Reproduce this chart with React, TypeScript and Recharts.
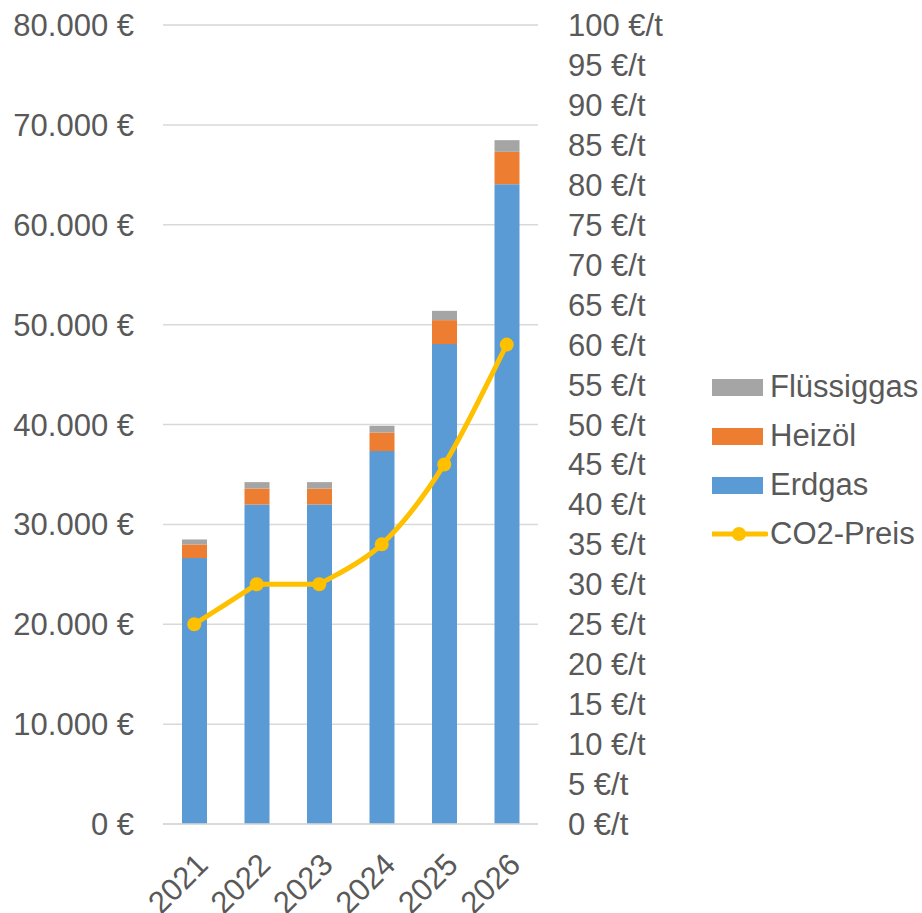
import React from "react";
import {
  ComposedChart,
  Bar,
  Line,
  XAxis,
  YAxis,
  CartesianGrid,
  Legend,
} from "recharts";

// Jahre und Kosten je Energieträger (in €), CO2-Preis in €/t
const years = ["2021", "2022", "2023", "2024", "2025", "2026"];
const erdgas = [26630, 31990, 31990, 37340, 48050, 64060];
const heizoel = [1360, 1600, 1600, 1860, 2400, 3240];
const fluessiggas = [500, 640, 640, 670, 930, 1170];
const co2Preis = [25, 30, 30, 35, 45, 60];

const euroTicks = [0, 10000, 20000, 30000, 40000, 50000, 60000, 70000, 80000];
const euroMinorTicks = [
  0, 5000, 10000, 15000, 20000, 25000, 30000, 35000, 40000,
  45000, 50000, 55000, 60000, 65000, 70000, 75000, 80000,
];
const preisTicks = [
  0, 5, 10, 15, 20, 25, 30, 35, 40, 45, 50,
  55, 60, 65, 70, 75, 80, 85, 90, 95, 100,
];

const COLORS = {
  erdgas: "#5B9BD5",
  heizoel: "#ED7D31",
  fluessiggas: "#A5A5A5",
  co2: "#FFC000",
};

const TEXT = "#595959";
const FONT = "'Liberation Sans', Arial, sans-serif";

const data = years.map((year, i) => ({
  year,
  erdgas: erdgas[i],
  heizoel: heizoel[i],
  fluessiggas: fluessiggas[i],
  co2: co2Preis[i],
}));

const formatEuro = (v: number) =>
  `${v.toLocaleString("de-DE").replace(/,/g, ".")} €`;

// geglättete Linie (Bezier, Tangente aus Nachbarpunkten / 6);
// Abschnitte ohne Preisänderung bleiben gerade und brechen die Glättung
function smoothCurve(context: any) {
  let pts: [number, number][] = [];
  const flat = (a?: [number, number], b?: [number, number]) =>
    !!a && !!b && a[1] === b[1];
  return {
    areaStart() {},
    areaEnd() {},
    lineStart() {
      pts = [];
    },
    point(x: number, y: number) {
      pts.push([+x, +y]);
    },
    lineEnd() {
      if (!pts.length) return;
      context.moveTo(pts[0][0], pts[0][1]);
      for (let i = 0; i < pts.length - 1; i++) {
        const p1 = pts[i];
        const p2 = pts[i + 1];
        if (flat(p1, p2)) {
          context.lineTo(p2[0], p2[1]);
          continue;
        }
        const p0 = pts[i - 1] && !flat(pts[i - 1], p1) ? pts[i - 1] : p1;
        const p3 = pts[i + 2] && !flat(p2, pts[i + 2]) ? pts[i + 2] : p2;
        context.bezierCurveTo(
          p1[0] + (p2[0] - p0[0]) / 6,
          p1[1] + (p2[1] - p0[1]) / 6,
          p2[0] - (p3[0] - p1[0]) / 6,
          p2[1] - (p3[1] - p1[1]) / 6,
          p2[0],
          p2[1]
        );
      }
    },
  };
}

const legendItems = [
  { label: "Flüssiggas", color: COLORS.fluessiggas, kind: "rect" },
  { label: "Heizöl", color: COLORS.heizoel, kind: "rect" },
  { label: "Erdgas", color: COLORS.erdgas, kind: "rect" },
  { label: "CO2-Preis", color: COLORS.co2, kind: "line" },
];

function KostenLegend() {
  return (
    <div style={{ fontFamily: FONT, fontSize: 31, color: TEXT }}>
      {legendItems.map((item) => (
        <div
          key={item.label}
          style={{ display: "flex", alignItems: "center", height: 49 }}
        >
          <svg width={56} height={20} style={{ marginRight: 2 }}>
            {item.kind === "rect" ? (
              <rect x={0} y={2} width={51} height={17} fill={item.color} />
            ) : (
              <g>
                <line
                  x1={0}
                  y1={10}
                  x2={54}
                  y2={10}
                  stroke={item.color}
                  strokeWidth={5}
                  strokeLinecap="round"
                />
                <circle cx={27} cy={10} r={7} fill={item.color} />
              </g>
            )}
          </svg>
          <span>{item.label}</span>
        </div>
      ))}
    </div>
  );
}

export default function App() {
  const tickStyle = { fill: TEXT, fontSize: 31, fontFamily: FONT };

  return (
    <div style={{ position: "absolute", left: 0, top: 0, background: "#fff" }}>
      <ComposedChart
        width={922}
        height={913}
        data={data}
        margin={{ top: 25, right: 254, bottom: 0, left: 0 }}
      >
        <CartesianGrid
          yAxisId="minor"
          vertical={false}
          stroke="#f2f2f2"
          strokeWidth={1.5}
        />
        <CartesianGrid
          yAxisId="left"
          vertical={false}
          stroke="#d9d9d9"
          strokeWidth={1.5}
        />
        <XAxis
          dataKey="year"
          interval={0}
          angle={-45}
          textAnchor="end"
          tickSize={0}
          tickMargin={27}
          height={89}
          axisLine={{ stroke: "#d9d9d9", strokeWidth: 1.5 }}
          tick={tickStyle}
        />
        <YAxis
          yAxisId="minor"
          hide
          domain={[0, 80000]}
          ticks={euroMinorTicks}
        />
        <YAxis
          yAxisId="left"
          width={163}
          domain={[0, 80000]}
          ticks={euroTicks}
          tickFormatter={formatEuro}
          tickSize={0}
          tickMargin={29}
          axisLine={false}
          tickLine={false}
          tick={tickStyle}
        />
        <YAxis
          yAxisId="right"
          orientation="right"
          width={130}
          domain={[0, 100]}
          ticks={preisTicks}
          interval={0}
          tickFormatter={(v: number) => `${v} €/t`}
          tickSize={0}
          tickMargin={30}
          axisLine={false}
          tickLine={false}
          tick={tickStyle}
        />
        <Bar
          yAxisId="left"
          dataKey="erdgas"
          name="Erdgas"
          stackId="kosten"
          fill={COLORS.erdgas}
          barSize={25}
          isAnimationActive={false}
        />
        <Bar
          yAxisId="left"
          dataKey="heizoel"
          name="Heizöl"
          stackId="kosten"
          fill={COLORS.heizoel}
          barSize={25}
          isAnimationActive={false}
        />
        <Bar
          yAxisId="left"
          dataKey="fluessiggas"
          name="Flüssiggas"
          stackId="kosten"
          fill={COLORS.fluessiggas}
          barSize={25}
          isAnimationActive={false}
        />
        <Line
          yAxisId="right"
          dataKey="co2"
          name="CO2-Preis"
          type={smoothCurve as any}
          stroke={COLORS.co2}
          strokeWidth={5}
          dot={{ r: 7, fill: COLORS.co2, stroke: "none" }}
          activeDot={false}
          isAnimationActive={false}
        />
        <Legend
          layout="vertical"
          align="center"
          verticalAlign="middle"
          content={() => <KostenLegend />}
          wrapperStyle={{ left: 712, top: 362, width: 210, height: 196 }}
        />
      </ComposedChart>
    </div>
  );
}
